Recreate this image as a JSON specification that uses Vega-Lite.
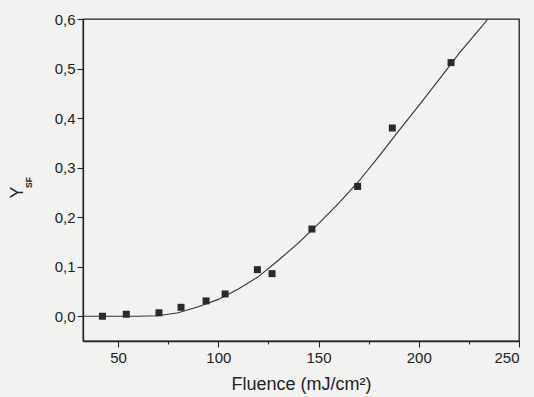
{
  "$schema": "https://vega.github.io/schema/vega-lite/v6.json",
  "width": 436,
  "height": 322,
  "autosize": {"type": "none"},
  "padding": {"left": 83, "top": 19, "right": 15, "bottom": 56},
  "background": "#f2f2f0",
  "config": {
    "view": {"stroke": "#222", "strokeWidth": 1.3},
    "axis": {"labelFont": "Liberation Sans", "titleFont": "Liberation Sans", "labelColor": "#222", "titleColor": "#222", "domainColor": "#222", "tickColor": "#222", "grid": false, "titleFontWeight": "normal", "domainWidth": 1.3, "tickWidth": 1.1}
  },
  "datasets": {
    "pts": [
      {"fluence": 42.2, "y": 0.0},
      {"fluence": 54.1, "y": 0.004},
      {"fluence": 70.4, "y": 0.007},
      {"fluence": 81.4, "y": 0.018},
      {"fluence": 93.9, "y": 0.031},
      {"fluence": 103.4, "y": 0.045},
      {"fluence": 119.5, "y": 0.094},
      {"fluence": 126.8, "y": 0.086},
      {"fluence": 146.7, "y": 0.176},
      {"fluence": 169.5, "y": 0.262},
      {"fluence": 186.8, "y": 0.38},
      {"fluence": 216.1, "y": 0.512}
    ],
    "fit": [
      {"fluence": 32.5, "y": 0.0},
      {"fluence": 60, "y": 0.0},
      {"fluence": 70, "y": 0.001},
      {"fluence": 80, "y": 0.007},
      {"fluence": 90, "y": 0.019},
      {"fluence": 100, "y": 0.034},
      {"fluence": 110, "y": 0.055},
      {"fluence": 120, "y": 0.08},
      {"fluence": 130, "y": 0.113},
      {"fluence": 140, "y": 0.148},
      {"fluence": 150, "y": 0.187},
      {"fluence": 160, "y": 0.228},
      {"fluence": 170, "y": 0.272},
      {"fluence": 180, "y": 0.322},
      {"fluence": 190, "y": 0.374},
      {"fluence": 200, "y": 0.425},
      {"fluence": 210, "y": 0.477},
      {"fluence": 220, "y": 0.53},
      {"fluence": 230, "y": 0.578},
      {"fluence": 234.5, "y": 0.6}
    ],
    "sub": [{"fluence": 32.5, "y": 0.27, "t": "SF"}]
  },
  "layer": [
    {
      "data": {"name": "fit"},
      "mark": {"type": "line", "color": "#333", "strokeWidth": 1.1, "clip": true},
      "encoding": {
        "x": {"field": "fluence", "type": "quantitative",
          "scale": {"domain": [32.5, 250], "nice": false, "zero": false},
          "axis": {
            "title": "Fluence (mJ/cm²)", "titleFontSize": 18, "titleY": 34,
            "values": [50, 75, 100, 125, 150, 175, 200, 225, 250],
            "labelFontSize": 15, "labelPadding": 3,
            "labelExpr": "datum.value % 50 == 0 ? datum.value : ''",
            "tickSize": {"condition": {"test": "datum.value % 50 == 0", "value": 6}, "value": 3}
          }
        },
        "y": {"field": "y", "type": "quantitative",
          "scale": {"domain": [-0.05, 0.6], "nice": false, "zero": false},
          "axis": {
            "title": "Y", "titleFontSize": 18, "titleY": 173, "titleX": -57,
            "values": [0, 0.05, 0.1, 0.15, 0.2, 0.25, 0.3, 0.35, 0.4, 0.45, 0.5, 0.55, 0.6],
            "labelFontSize": 15, "labelPadding": 2,
            "labelExpr": "abs(datum.value*10 - round(datum.value*10)) < 0.001 ? replace(format(datum.value, '.1f'), '.', ',') : ''",
            "tickSize": {"condition": {"test": "abs(datum.value*10 - round(datum.value*10)) < 0.001", "value": 6}, "value": 4}
          }
        }
      }
    },
    {
      "data": {"name": "pts"},
      "mark": {"type": "square", "color": "#2a2a2a", "opacity": 1, "size": 49},
      "encoding": {
        "x": {"field": "fluence", "type": "quantitative"},
        "y": {"field": "y", "type": "quantitative"}
      }
    },
    {
      "data": {"name": "sub"},
      "mark": {"type": "text", "angle": 270, "fontSize": 8.5, "font": "Liberation Sans", "fontWeight": "bold", "color": "#222", "dy": -54, "clip": false},
      "encoding": {
        "x": {"field": "fluence", "type": "quantitative"},
        "y": {"field": "y", "type": "quantitative"},
        "text": {"field": "t"}
      }
    }
  ]
}
